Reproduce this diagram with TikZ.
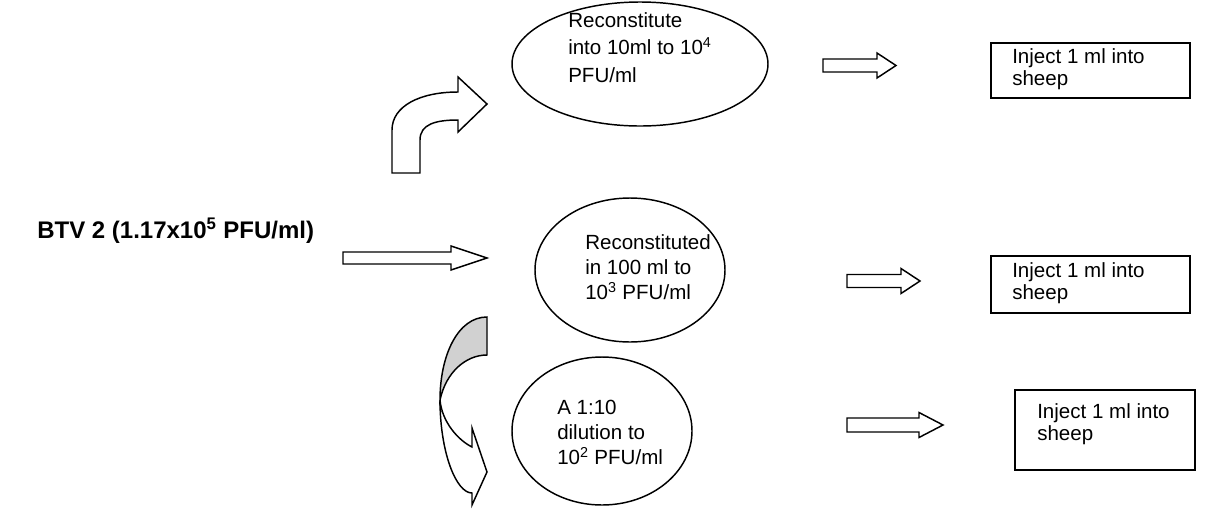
\documentclass[tikz,border=0pt]{standalone}
\usepackage{fontspec}
\setmainfont{Liberation Sans}
\begin{document}
\begin{tikzpicture}[x=0.75pt,y=-0.75pt,
  outline/.style={draw=black, line width=1.1pt, line join=miter},
  boxline/.style={draw=black, line width=1.5pt},
  blockarrow/.style={outline, fill=white},
  label/.style={inner sep=0pt, anchor=north west, align=left,
    font=\fontsize{15.4pt}{18.75pt}\selectfont},
  wide/.style={font=\fontsize{15.4pt}{20.6pt}\selectfont},
  tight/.style={font=\fontsize{15.4pt}{16.5pt}\selectfont}]
\useasboundingbox (0,0) rectangle (1207,508);

% source label
\node[inner sep=0pt, anchor=base west, font=\fontsize{18pt}{21pt}\selectfont\bfseries]
  (src) at (37,238) {BTV 2 (1.17x10\textsuperscript{5} PFU/ml)};

% ellipses
\draw[outline] (640,64) ellipse [x radius=128, y radius=62];
\draw[outline] (630,270) ellipse [x radius=95, y radius=72];
\draw[outline] (602,431) ellipse [x radius=90, y radius=74];

\node[label, wide] (e1) at (568,12.3)
  {Reconstitute\\into 10ml to 10\textsuperscript{4}\\PFU/ml};
\node[label] (e2) at (585,234.3)
  {Reconstituted\\in 100 ml to\\10\textsuperscript{3} PFU/ml};
\node[label] (e3) at (557,400.3)
  {A 1:10\\dilution to\\10\textsuperscript{2} PFU/ml};

% result boxes
\draw[boxline] (991,43) rectangle (1190,98);
\draw[boxline] (991,256) rectangle (1190,313);
\draw[boxline] (1015,390) rectangle (1195,470);

\node[label, tight] (b1) at (1012,48.3) {Inject 1 ml into\\sheep};
\node[label, tight] (b2) at (1012,262.3) {Inject 1 ml into\\sheep};
\node[label, tight] (b3) at (1037,403) {Inject 1 ml into\\sheep};

% straight block arrows
\draw[blockarrow] (343,252) -- (451,252) -- (451,246) -- (487,258)
  -- (451,270) -- (451,264) -- (343,264) -- cycle;
\draw[blockarrow] (823,59) -- (877,59) -- (877,53) -- (896,65.5)
  -- (877,78) -- (877,72) -- (823,72) -- cycle;
\draw[blockarrow] (847,274.5) -- (901,274.5) -- (901,268.5) -- (920,281)
  -- (901,293.5) -- (901,287.5) -- (847,287.5) -- cycle;
\draw[blockarrow] (847,418) -- (919,418) -- (919,412.5) -- (943,425)
  -- (919,437.5) -- (919,432) -- (847,432) -- cycle;

% bent arrow turning up and right
\draw[blockarrow] (392,173) -- (392,130)
  .. controls (392,106) and (420,92) .. (458,92)
  -- (458,77) -- (487,104) -- (458,132) -- (458,120)
  .. controls (436,120) and (420,124) .. (420,140)
  -- (420,173) -- cycle;

% curved arrow sweeping down and right
\draw[outline, fill=black!18] (487,317)
  .. controls (458,317) and (440,355) .. (440,400)
  .. controls (446,372) and (466,355) .. (487,355) -- cycle;
\draw[blockarrow] (440,400)
  .. controls (440,452) and (456,493) .. (472,493)
  -- (472,505) -- (487,472) -- (472,428) -- (472,447)
  .. controls (458,440) and (442,422) .. (440,400) -- cycle;
\end{tikzpicture}
\end{document}
